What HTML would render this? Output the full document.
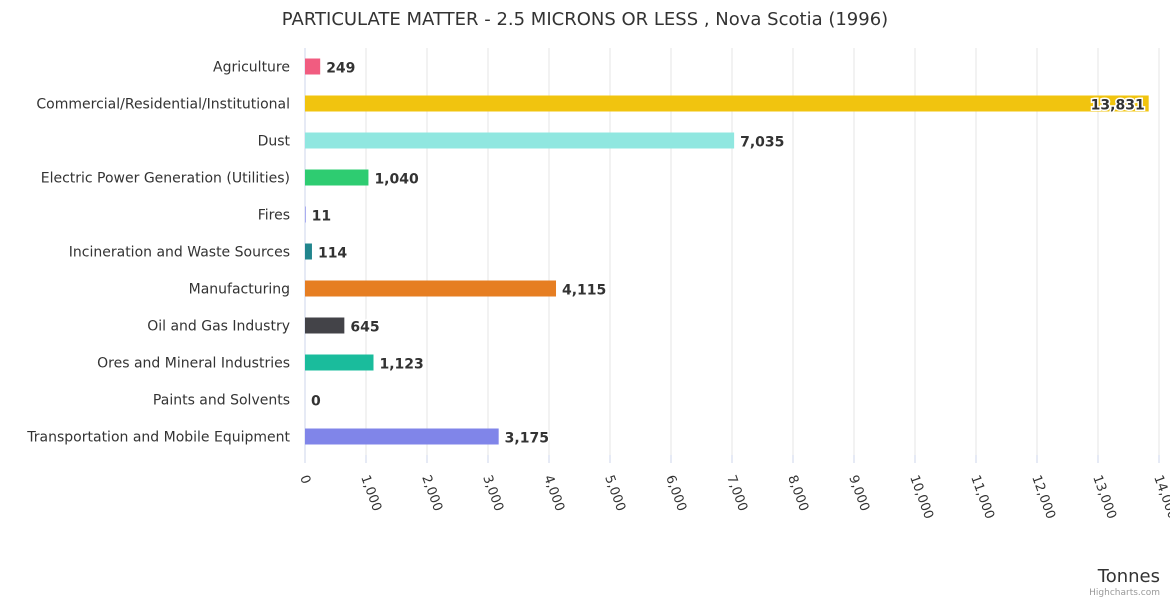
<!DOCTYPE html>
<html><head><meta charset="utf-8"><style>
body{margin:0;background:#fff;font-family:"Liberation Sans","DejaVu Sans",sans-serif;}
svg text{font-family:"DejaVu Sans","Liberation Sans",sans-serif;}
</style></head><body>
<svg id="chart" width="1170" height="600">
<text x="585" y="25" text-anchor="middle" font-size="18" fill="#333">PARTICULATE MATTER - 2.5 MICRONS OR LESS , Nova Scotia (1996)</text>
<g id="grid"></g><g id="bars"></g><g id="xlabels"></g><g id="ylabels"></g>
<text x="1160" y="582" text-anchor="end" font-size="18" fill="#333">Tonnes</text>
<text x="1160" y="595" text-anchor="end" font-size="9" fill="#999">Highcharts.com</text>
</svg>
<script>
const categories=["Agriculture","Commercial/Residential/Institutional","Dust","Electric Power Generation (Utilities)","Fires","Incineration and Waste Sources","Manufacturing","Oil and Gas Industry","Ores and Mineral Industries","Paints and Solvents","Transportation and Mobile Equipment"];
const values=[249,13831,7035,1040,11,114,4115,645,1123,0,3175];
const colors=["#f15c80","#f1c40f","#90e7e0","#2ecc71","#8085e9","#21858d","#e67e22","#434348","#1abc9c","#7cb5ec","#8085e9"];
const ticks=[0,1000,2000,3000,4000,5000,6000,7000,8000,9000,10000,11000,12000,13000,14000];
const NS="http://www.w3.org/2000/svg";
const x0=305,x1=1159,plotTop=48,plotBottom=455,maxV=14000;
const xs=v=>x0+v/maxV*(x1-x0);
const rowH=(plotBottom-plotTop)/categories.length;
const ys=i=>plotTop+rowH*(i+0.5);
function mk(tag,attrs,parent){const e=document.createElementNS(NS,tag);for(const k in attrs)e.setAttribute(k,attrs[k]);document.getElementById(parent).appendChild(e);return e;}
const fmt=v=>v.toLocaleString('en-US');
ticks.forEach(t=>{
 const x=xs(t);
 if(t>0){const g=mk('line',{x1:x,x2:x,y1:plotTop,y2:plotBottom,stroke:'#e6e6e6'},'grid');
 
 }
 const tk=mk('line',{x1:x,x2:x,y1:plotBottom,y2:plotBottom+8,stroke:'#ccd6eb'},'grid');
 
 
 const l=mk('text',{transform:`translate(${x-5},477) rotate(70)`,'font-size':13,fill:'#333'},'xlabels');
 l.textContent=fmt(t);
 
 
});
const ax=mk('line',{x1:x0,x2:x0,y1:plotTop,y2:plotBottom,stroke:'#ccd6eb'},'grid');


categories.forEach((c,i)=>{
 const y=ys(i);
 const l=mk('text',{x:290,y:y+5,'text-anchor':'end','font-size':14,fill:'#333'},'ylabels');
 l.textContent=c;
 
 
 const w=xs(values[i])-x0;
 const b=mk('rect',{x:x0,y:y-8,width:Math.max(w,0),height:16,fill:colors[i]},'bars');
 
 
 const inside=w>800;
 const v=mk('text',{x:inside?xs(values[i])-4:xs(values[i])+6,y:y+6,'text-anchor':inside?'end':'start','font-size':14,'font-weight':'bold',fill:'#333',stroke:'#fff','stroke-width':3,'paint-order':'stroke'},'bars');
 v.textContent=fmt(values[i]);
 
 
});
</script>
</body></html>
